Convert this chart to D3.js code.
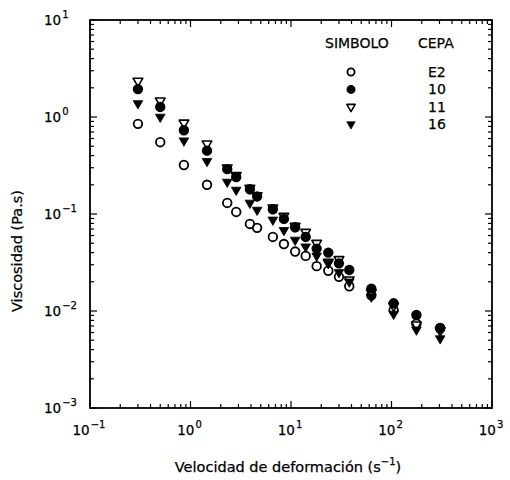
<!DOCTYPE html>
<html>
<head>
<meta charset="utf-8">
<script src="https://cdn.jsdelivr.net/npm/d3@7"></script>
<style>
  html, body { margin: 0; padding: 0; background: #fff; }
  svg { display: block; font-family: "DejaVu Sans", sans-serif; }
  text { stroke: #000; stroke-width: 0.25; }
</style>
</head>
<body>
<svg id="chart" width="510" height="480"></svg>
<script>
// ---- DATA ----
const shearRates = [0.3, 0.5, 0.86, 1.46, 2.32, 2.85, 3.9, 4.6, 6.6, 8.5, 11, 14, 18, 23.5, 30, 38, 63, 105, 177, 305];
const viscE2 = [0.85, 0.55, 0.32, 0.20, 0.13, 0.105, 0.079, 0.072, 0.058, 0.049, 0.041, 0.037, 0.029, 0.026, 0.0225, 0.018, 0.0145, 0.0102, 0.0074, 0.0066];
const visc10 = [1.94, 1.27, 0.73, 0.45, 0.29, 0.24, 0.18, 0.152, 0.112, 0.089, 0.073, 0.058, 0.044, 0.040, 0.031, 0.0265, 0.017, 0.012, 0.0091, 0.0067];
const visc11 = [2.35, 1.47, 0.87, 0.53, 0.30, 0.25, 0.185, 0.155, 0.116, 0.095, 0.075, 0.065, 0.050, 0.032, 0.034, 0.021, 0.0155, 0.0113, 0.0072, 0.0063];
const visc16 = [1.38, 1.0, 0.57, 0.35, 0.214, 0.177, 0.13, 0.11, 0.087, 0.068, 0.054, 0.046, 0.037, 0.031, 0.025, 0.020, 0.014, 0.0093, 0.0064, 0.0052];
const cepaLabels = ["E2", "10", "11", "16"];
const xDecades = [-1, 0, 1, 2, 3];
const yDecades = [-3, -2, -1, 0, 1];
const legendHeader = ["SIMBOLO", "CEPA"];
const xTitle = "Velocidad de deformación (s";
const yTitle = "Viscosidad (Pa.s)";

// ---- LAYOUT ----
const svg = d3.select("#chart");
const L = 90, R = 492, T = 20, B = 408;
const x = d3.scaleLog().domain([0.1, 1000]).range([L, R]);
const y = d3.scaleLog().domain([0.001, 10]).range([B, T]);

// series definitions (drawing order matters)
const series = [
  { name: cepaLabels[0], values: viscE2, shape: "circle", filled: false },
  { name: cepaLabels[2], values: visc11, shape: "tri", filled: false },
  { name: cepaLabels[1], values: visc10, shape: "circle", filled: true },
  { name: cepaLabels[3], values: visc16, shape: "tri", filled: true }
];

const triPath = d3.symbol().type(d3.symbolTriangle).size(40)();
const triPathSmall = d3.symbol().type(d3.symbolTriangle).size(30)();

function drawMarker(g, s, cx, cy, small) {
  if (s.shape === "circle") {
    g.append("circle")
      .attr("cx", cx).attr("cy", cy)
      .attr("r", small ? 3.6 : 4.3)
      .attr("fill", s.filled ? "#000" : "none")
      .attr("stroke", "#000")
      .attr("stroke-width", 1.8);
  } else {
    g.append("path")
      .attr("d", small ? triPathSmall : triPath)
      .attr("transform", `translate(${cx},${cy}) rotate(180)`)
      .attr("fill", s.filled ? "#000" : "none")
      .attr("stroke", "#000")
      .attr("stroke-width", s.filled ? 0.8 : 1.6)
      .attr("stroke-linejoin", "round");
  }
}

// ---- FRAME & TICKS ----
const frame = svg.append("g");
frame.append("rect")
  .attr("x", L).attr("y", T).attr("width", R - L).attr("height", B - T)
  .attr("fill", "none").attr("stroke", "#000").attr("stroke-width", 1.8);

function decadeTicks(decades) {
  const out = [];
  for (let i = 0; i < decades.length - 1; i++) {
    const base = Math.pow(10, decades[i]);
    for (let m = 2; m <= 9; m++) out.push({ v: base * m, major: false });
  }
  decades.forEach(d => out.push({ v: Math.pow(10, d), major: true }));
  return out;
}
const xt = decadeTicks(xDecades);
const yt = decadeTicks(yDecades);
const tg = frame.append("g").attr("stroke", "#000").attr("stroke-width", 1.2);
xt.forEach(t => {
  const len = t.major ? 7 : 4;
  tg.append("line").attr("x1", x(t.v)).attr("x2", x(t.v)).attr("y1", B).attr("y2", B - len);
  tg.append("line").attr("x1", x(t.v)).attr("x2", x(t.v)).attr("y1", T).attr("y2", T + len);
});
yt.forEach(t => {
  const len = t.major ? 7 : 4;
  tg.append("line").attr("y1", y(t.v)).attr("y2", y(t.v)).attr("x1", L).attr("x2", L + len);
  tg.append("line").attr("y1", y(t.v)).attr("y2", y(t.v)).attr("x1", R).attr("x2", R - len);
});

// ---- TICK LABELS ----
xDecades.forEach(d => {
  const t = svg.append("text")
    .attr("x", x(Math.pow(10, d)) - 1).attr("y", 435)
    .attr("text-anchor", "middle")
    .attr("font-size", 13.5).attr("fill", "#000");
  t.append("tspan").text("10");
  t.append("tspan").attr("dx", 1).attr("dy", -7).attr("font-size", 10).text(d < 0 ? "\u2212" + Math.abs(d) : String(d));
});
yDecades.forEach(d => {
  const t = svg.append("text")
    .attr("x", 44).attr("y", y(Math.pow(10, d)) + 5)
    .attr("text-anchor", "start")
    .attr("font-size", 13.5).attr("fill", "#000");
  t.append("tspan").text("10");
  t.append("tspan").attr("dx", 1).attr("dy", -7).attr("font-size", 10).text(d < 0 ? "\u2212" + Math.abs(d) : String(d));
});

// ---- AXIS TITLES ----
const xt2 = svg.append("text")
  .attr("x", 288).attr("y", 472)
  .attr("text-anchor", "middle")
  .attr("font-size", 14.5).attr("fill", "#000");
xt2.append("tspan").text(xTitle);
xt2.append("tspan").attr("dy", -7).attr("font-size", 10).text("\u22121");
xt2.append("tspan").attr("dy", 7).text(")");

svg.append("text")
  .attr("transform", "translate(22,251) rotate(-90)")
  .attr("text-anchor", "middle")
  .attr("font-size", 14.5).attr("fill", "#000")
  .text(yTitle);

// ---- DATA MARKERS ----
const marks = svg.append("g");
series.forEach(s => {
  s.values.forEach((v, i) => {
    drawMarker(marks, s, x(shearRates[i]), y(v), false);
  });
});

// ---- LEGEND ----
const lg = svg.append("g").attr("font-size", 14).attr("fill", "#000");
lg.append("text").attr("x", 325).attr("y", 48).text(legendHeader[0]);
lg.append("text").attr("x", 418).attr("y", 48).text(legendHeader[1]);
cepaLabels.forEach((name, i) => {
  const s = series.find(d => d.name === name);
  const cy = 72 + i * 17.4;
  drawMarker(lg, s, 351, cy, true);
  lg.append("text").attr("x", 428).attr("y", cy + 5).text(name);
});
</script>
</body>
</html>
